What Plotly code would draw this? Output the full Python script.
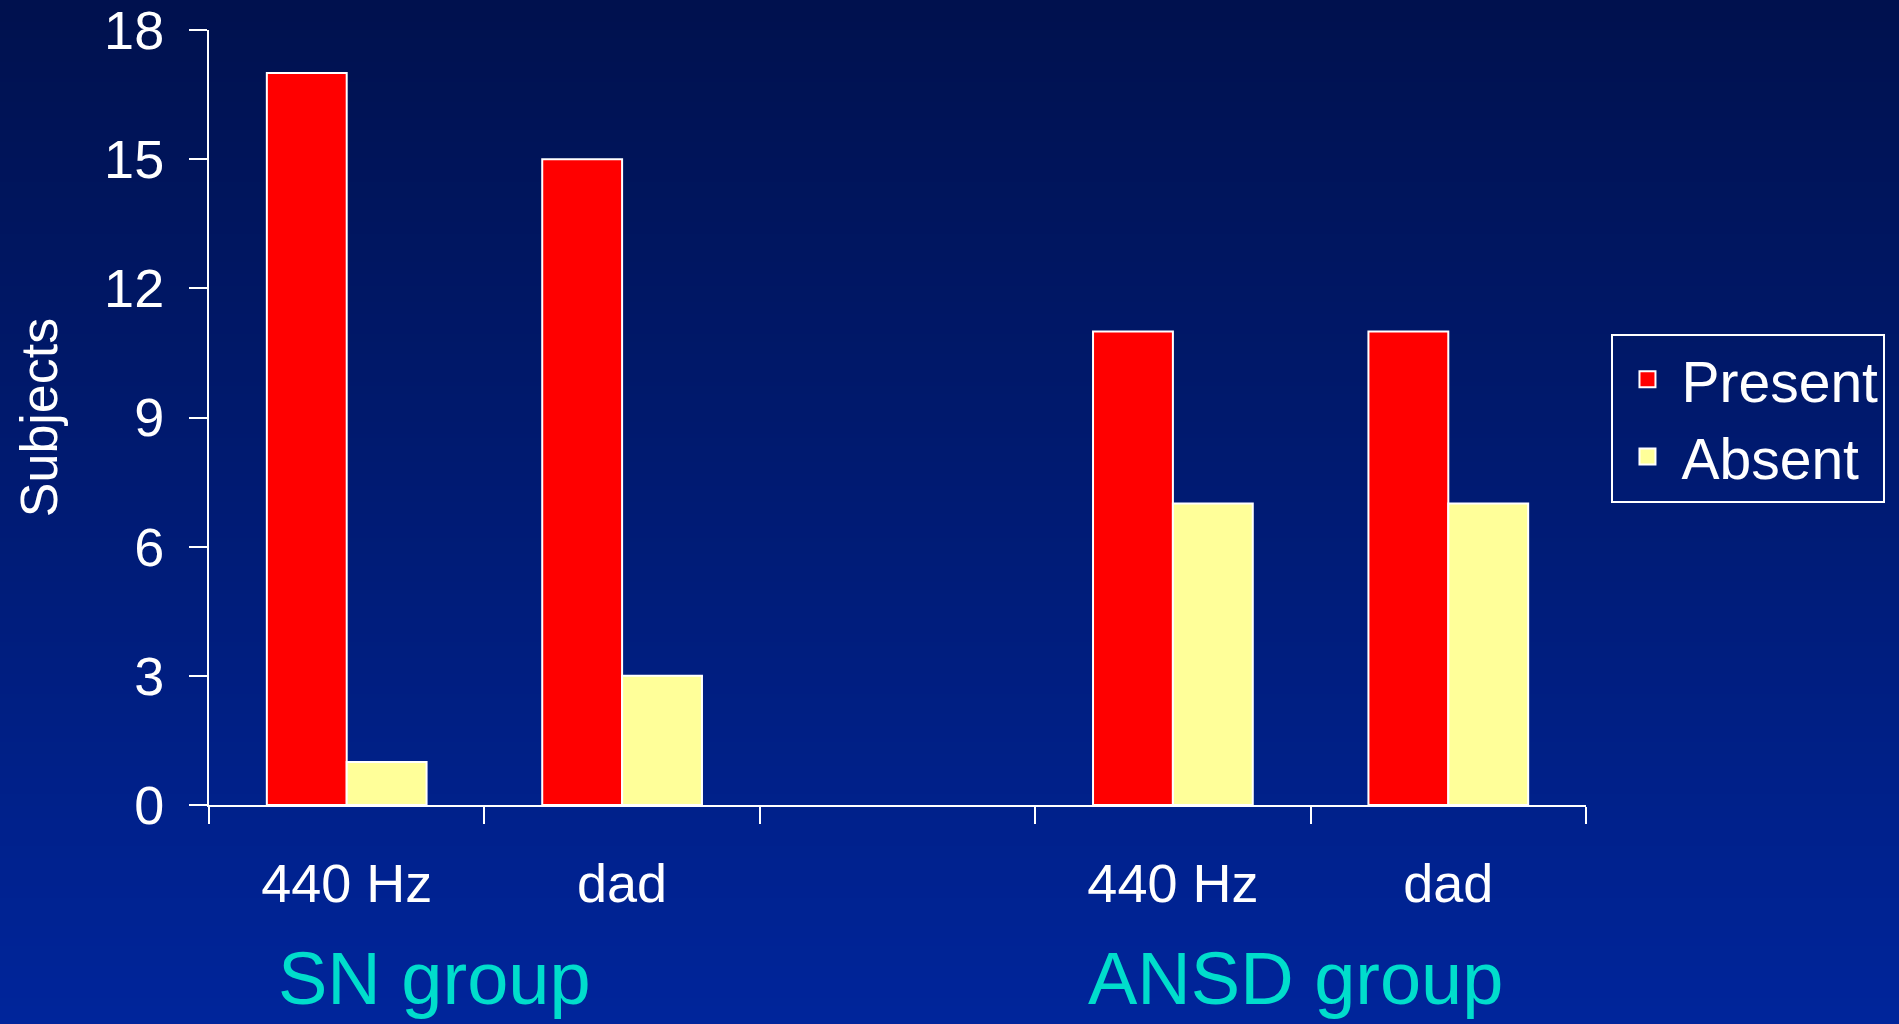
import zlib, struct, base64
import plotly.graph_objects as go

# ---- data ----
categories = ["SN|440 Hz", "SN|dad", "gap", "ANSD|440 Hz", "ANSD|dad"]
tick_labels = ["440 Hz", "dad", "", "440 Hz", "dad"]
present = [17, 15, None, 11, 11]
absent = [1, 3, None, 7, 7]
y_ticks = [0, 3, 6, 9, 12, 15, 18]
group_names = ["SN group", "ANSD group"]

# ---- layout geometry ----
W, H = 1899, 1024
ML, MR, MT, MB = 209, 313, 30, 219
PW, PH = W - ML - MR, H - MT - MB
FONT = "Liberation Sans, Arial, sans-serif"

def gradient_png(top, bottom, h=256):
    raw = b""
    for i in range(h):
        t = i / (h - 1)
        px = bytes(int(round(a + (b - a) * t)) for a, b in zip(top, bottom))
        raw += b"\x00" + px
    def chunk(tag, data):
        c = struct.pack(">I", len(data)) + tag + data
        return c + struct.pack(">I", zlib.crc32(tag + data) & 0xffffffff)
    png = b"\x89PNG\r\n\x1a\n"
    png += chunk(b"IHDR", struct.pack(">IIBBBBB", 1, h, 8, 2, 0, 0, 0))
    png += chunk(b"IDAT", zlib.compress(raw))
    png += chunk(b"IEND", b"")
    return "data:image/png;base64," + base64.b64encode(png).decode()

bg = gradient_png((0, 17, 78), (0, 37, 155))

fig = go.Figure()
fig.add_trace(go.Bar(x=categories, y=present, name="Present",
                     marker=dict(color="#FF0000", line=dict(color="white", width=2)),
                     showlegend=False))
fig.add_trace(go.Bar(x=categories, y=absent, name="Absent",
                     marker=dict(color="#FFFF99", line=dict(color="white", width=2)),
                     showlegend=False))
# legend proxies
fig.add_trace(go.Scatter(x=[None], y=[None], mode="markers", name="Present",
                         marker=dict(symbol="square", size=16, color="#FF0000",
                                     line=dict(color="white", width=2))))
fig.add_trace(go.Scatter(x=[None], y=[None], mode="markers", name="Absent",
                         marker=dict(symbol="square", size=16, color="#FFFF99",
                                     line=dict(color="white", width=2))))

fig.update_layout(
    width=W, height=H,
    margin=dict(l=ML, r=MR, t=MT, b=MB, pad=0, autoexpand=False),
    paper_bgcolor="rgb(0,37,155)",
    plot_bgcolor="rgba(0,0,0,0)",
    barmode="group", bargap=0.42, bargroupgap=0,
    font=dict(family=FONT, color="white", size=54),
    showlegend=True,
    legend=dict(x=1.0185, y=0.608, xanchor="left", yanchor="top",
                bgcolor="rgba(0,0,0,0)", bordercolor="white", borderwidth=2,
                font=dict(size=57, color="white"), itemsizing="trace",
                itemwidth=58, tracegroupgap=0),
    images=[dict(source=bg, xref="paper", yref="paper",
                 x=-ML / PW, y=1 + MT / PH, sizex=W / PW, sizey=H / PH,
                 xanchor="left", yanchor="top", sizing="stretch", layer="below")],
)

fig.update_xaxes(
    type="category", categoryorder="array", categoryarray=categories,
    tickmode="array", tickvals=categories, ticktext=tick_labels,
    tickson="boundaries", ticks="outside", ticklen=17, tickwidth=2, tickcolor="white",
    showline=True, linecolor="white", linewidth=2, showgrid=False, zeroline=False,
    range=[-0.5, 4.5], tickfont=dict(size=54, color="white"),
    ticklabelstandoff=30, automargin=False,
)
fig.update_yaxes(
    range=[0, 18.0001], tickmode="array", tickvals=y_ticks,
    ticks="outside", ticklen=18, tickwidth=2, tickcolor="white",
    showline=True, linecolor="white", linewidth=2, showgrid=False, zeroline=False,
    tickfont=dict(size=54, color="white"), ticklabelstandoff=14,
    ticklabeloverflow="allow", automargin=False,
    title=dict(text="Subjects", font=dict(size=52, color="white"), standoff=30),
)

for name, xp in zip(group_names, [0.1636, 0.789]):
    fig.add_annotation(text=name, xref="paper", yref="paper", x=xp, y=-0.2245,
                       xanchor="center", yanchor="middle", showarrow=False,
                       font=dict(size=74, color="#00DDCC", family=FONT))

fig.write_html("out.html", config={"displayModeBar": False},
               post_script="document.body.style.margin='0';document.body.style.overflow='hidden';")
